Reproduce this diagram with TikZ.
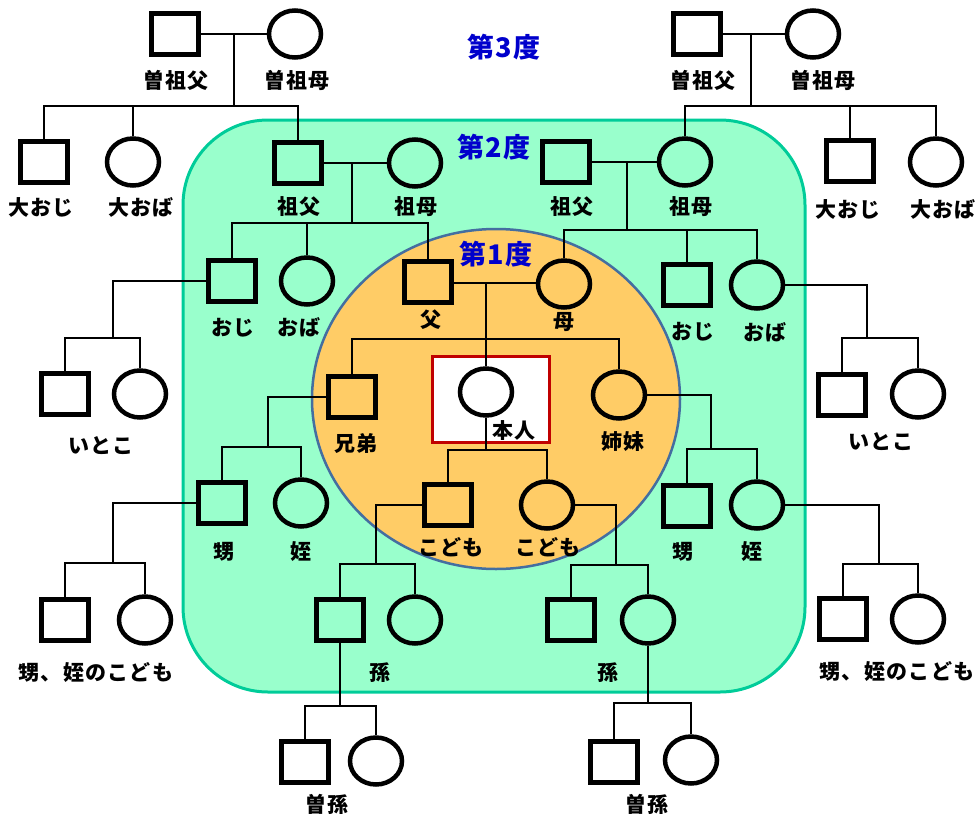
\documentclass[tikz,border=0pt]{standalone}
\usepackage{fontspec}
\setmainfont{Noto Sans CJK JP}[LetterSpace=6]
\usepackage{tikz}
\usetikzlibrary{shapes.geometric}
\definecolor{mint}{RGB}{153,255,204}
\definecolor{mintline}{RGB}{0,204,153}
\definecolor{peach}{RGB}{255,204,102}
\definecolor{peachline}{RGB}{68,110,160}
\definecolor{selfred}{RGB}{192,0,0}
\definecolor{degblue}{RGB}{0,0,204}
\tikzset{
%Define styles for the persons
male/.style={draw, line width=4.5pt, minimum width=47pt, minimum height=41pt, inner sep=0pt},
female/.style={draw, ellipse, line width=4.5pt, minimum width=52pt, minimum height=47pt, inner sep=0pt},
%Define style for labels and lines
who/.style={font=\bfseries\fontsize{21}{23}\selectfont, inner sep=0pt},
deglabel/.style={font=\bfseries\fontsize{27}{30}\selectfont, text=degblue, inner sep=0pt},
connection/.style={line width=1.6pt}, }

\begin{document}
\begin{tikzpicture}[x=1pt,y=-1pt]
\useasboundingbox (0,0) rectangle (980,814);

% the degree areas
\draw[line width=3pt, draw=mintline, fill=mint, rounded corners=85pt] (183,120) rectangle (805,692);
\draw[line width=2.5pt, draw=peachline, fill=peach] (496,399) ellipse [x radius=184pt, y radius=170pt];
\draw[line width=3pt, draw=selfred, fill=white] (432,356) rectangle (549,442);

\node[deglabel] (d3) at (504,47) {第3度};
\node[deglabel] (d2) at (494,147) {第2度};
\node[deglabel] (d1) at (496,254) {第1度};

% third generation up
\node[male] (ggfL) at (175,34) {};
\node[female] (ggmL) at (295,34) {};
\node[male] (ggfR) at (697,34) {};
\node[female] (ggmR) at (813,34) {};
\node[who] (ggfLt) at (176,80) {曽祖父};
\node[who] (ggmLt) at (297,80) {曽祖母};
\node[who] (ggfRt) at (703,80) {曽祖父};
\node[who] (ggmRt) at (823,80) {曽祖母};

% second generation up
\node[male] (guL) at (44,162) {};
\node[female] (gaL) at (133,162) {};
\node[male] (gfL) at (298,163) {};
\node[female] (gmL) at (415,163) {};
\node[male] (gfR) at (566,162) {};
\node[female] (gmR) at (685,162) {};
\node[male] (guR) at (850,161) {};
\node[female] (gaR) at (936,162) {};
\node[who] (guLt) at (41,207) {大おじ};
\node[who] (gaLt) at (141,207) {大おば};
\node[who] (gfLt) at (299,207) {祖父};
\node[who] (gmLt) at (416,207) {祖母};
\node[who] (gfRt) at (572,207) {祖父};
\node[who] (gmRt) at (691,207) {祖母};
\node[who] (guRt) at (848,209) {大おじ};
\node[who] (gaRt) at (943,209) {大おば};

% parents, uncles and aunts
\node[male] (uoL) at (232,281) {};
\node[female] (uaL) at (307,281) {};
\node[male] (fa) at (428,282) {};
\node[female] (mo) at (564,284) {};
\node[male] (uoR) at (687,285) {};
\node[female] (uaR) at (757,285) {};
\node[who] (uoLt) at (233,328) {おじ};
\node[who] (uaLt) at (299,327) {おば};
\node[who] (fat) at (431,320) {父};
\node[who] (mot) at (564,322) {母};
\node[who] (uoRt) at (693,332) {おじ};
\node[who] (uaRt) at (765,332) {おば};

% own generation
\node[male] (coML) at (65,394) {};
\node[female] (coFL) at (140,394) {};
\node[male] (br) at (352,397) {};
\node[female, fill=white] (self) at (486,392) {};
\node[female] (si) at (619,395) {};
\node[male] (coMR) at (842,395) {};
\node[female] (coFR) at (918,394) {};
\node[who] (coLt) at (101,446) {いとこ};
\node[who] (brt) at (356,443) {兄弟};
\node[who] (selft) at (514,431) {本人};
\node[who] (sit) at (623,442) {姉妹};
\node[who] (coRt) at (881,442) {いとこ};

% children, nephews and nieces
\node[male] (neML) at (222,503) {};
\node[female] (niFL) at (301,503) {};
\node[male] (chM) at (448,505) {};
\node[female] (chF) at (547,505) {};
\node[male] (neMR) at (687,506) {};
\node[female] (niFR) at (757,505) {};
\node[who] (neLt) at (224,552) {甥};
\node[who] (niLt) at (301,552) {姪};
\node[who] (chMt) at (451,547) {こども};
\node[who] (chFt) at (548,547) {こども};
\node[who] (neRt) at (683,552) {甥};
\node[who] (niRt) at (752,552) {姪};

% grandchildren
\node[male] (gnML) at (65,620) {};
\node[female] (gnFL) at (145,620) {};
\node[male] (gcML) at (340,620) {};
\node[female] (gcFL) at (415,620) {};
\node[male] (gcMR) at (571,620) {};
\node[female] (gcFR) at (648,620) {};
\node[male] (gnMR) at (843,619) {};
\node[female] (gnFR) at (918,619) {};
\node[who] (gnLt) at (96,672) {甥、姪のこども};
\node[who] (gcLt) at (380,673) {孫};
\node[who] (gcRt) at (608,673) {孫};
\node[who] (gnRt) at (897,671) {甥、姪のこども};

% great-grandchildren
\node[male] (ggcML) at (305,762) {};
\node[female] (ggcFL) at (376,761) {};
\node[male] (ggcMR) at (614,762) {};
\node[female] (ggcFR) at (691,760) {};
\node[who] (ggcLt) at (327,804) {曽孫};
\node[who] (ggcRt) at (647,804) {曽孫};

% junctions
\path coordinate (mL3) at (234,34) coordinate (bL3) at (234,106)
 coordinate (mR3) at (751,34) coordinate (bR3) at (751,106)
 coordinate (mL2) at (352,163) coordinate (bL2) at (352,223)
 coordinate (mR2) at (627,162) coordinate (bR2) at (627,230)
 coordinate (mP) at (486,283) coordinate (bP) at (486,339)
 coordinate (bS) at (486,450);
\path coordinate (jcL) at (113,338) coordinate (jcR) at (867,338)
 coordinate (jnL) at (268,447) coordinate (jnR) at (711,449)
 coordinate (jgL) at (113,563) coordinate (jgR) at (879,564)
 coordinate (jkL) at (376,564) coordinate (jkR) at (616,565)
 coordinate (jhL) at (340,706) coordinate (jhR) at (648,703);

% marriages and descent
\draw[connection] (ggfL.east) -- (ggmL.west);
\draw[connection] (mL3) -- (bL3);
\draw[connection] (guL.north) |- (bL3) -| (gfL.north);
\draw[connection] (gaL.north) -- (gaL.north |- bL3);

\draw[connection] (ggfR.east) -- (ggmR.west);
\draw[connection] (mR3) -- (bR3);
\draw[connection] (gmR.north) |- (bR3) -| (gaR.north);
\draw[connection] (guR.north) -- (guR.north |- bR3);

\draw[connection] (gfL.east) -- (gmL.west);
\draw[connection] (mL2) -- (bL2);
\draw[connection] (uoL.north) |- (bL2) -| (fa.north);
\draw[connection] (uaL.north) -- (uaL.north |- bL2);

\draw[connection] (gfR.east) -- (gmR.west);
\draw[connection] (mR2) -- (bR2);
\draw[connection] (mo.north) |- (bR2) -| (uaR.north);
\draw[connection] (uoR.north) -- (uoR.north |- bR2);

\draw[connection] (fa.east |- mP) -- (mo.west |- mP);
\draw[connection] (mP) -- (self.north);
\draw[connection] (br.north) |- (bP) -| (si.north);

\draw[connection] (self.south) -- (bS);
\draw[connection] (chM.north) |- (bS) -| (chF.north);

% side lines
\draw[connection] (uoL.west) -| (jcL);
\draw[connection] (coML.north) |- (jcL) -| (coFL.north);
\draw[connection] (uaR.east) -| (jcR);
\draw[connection] (coMR.north) |- (jcR) -| (coFR.north);

\draw[connection] (br.west) -| (jnL);
\draw[connection] (neML.north) |- (jnL) -| (niFL.north);
\draw[connection] (si.east) -| (jnR);
\draw[connection] (neMR.north) |- (jnR) -| (niFR.north);

\draw[connection] (neML.west) -| (jgL);
\draw[connection] (gnML.north) |- (jgL) -| (gnFL.north);
\draw[connection] (niFR.east) -| (jgR);
\draw[connection] (gnMR.north) |- (jgR) -| (gnFR.north);

\draw[connection] (chM.west) -| (jkL);
\draw[connection] (gcML.north) |- (jkL) -| (gcFL.north);
\draw[connection] (chF.east) -| (jkR);
\draw[connection] (gcMR.north) |- (jkR) -| (gcFR.north);

\draw[connection] (gcML.south) -- (jhL);
\draw[connection] (ggcML.north) |- (jhL) -| (ggcFL.north);
\draw[connection] (gcFR.south) -- (jhR);
\draw[connection] (ggcMR.north) |- (jhR) -| (ggcFR.north);
\end{tikzpicture}
\end{document}
